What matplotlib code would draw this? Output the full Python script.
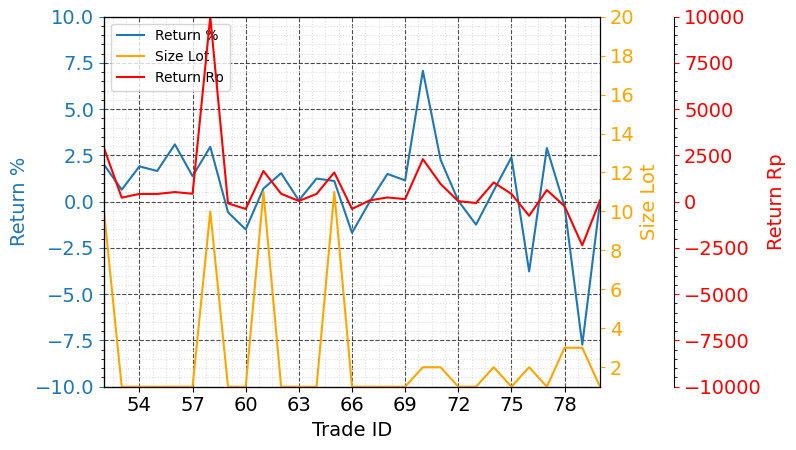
import matplotlib
matplotlib.use("Agg")
import matplotlib.pyplot as plt
from matplotlib.ticker import AutoMinorLocator, MultipleLocator

trade_id = list(range(52, 81))
return_pct = [2.0, 0.65, 1.91, 1.66, 3.1, 1.38, 2.97, -0.57, -1.5, 0.71, 1.54, 0.07,
              1.25, 1.12, -1.68, 0.0, 1.5, 1.15, 7.08, 2.27, 0.05, -1.24, 0.6, 2.4,
              -3.77, 2.9, -0.25, -7.73, 0.02]
size_lot = [10, 1, 1, 1, 1, 1, 10, 1, 1, 11, 1, 1, 1, 11, 1, 1, 1, 1, 2, 2, 1, 1,
            2, 1, 2, 1, 3, 3, 1]
return_rp = [2900, 220, 420, 420, 520, 430, 10000, -90, -390, 1660, 430, 40, 420,
             1580, -390, 70, 230, 140, 2300, 960, 30, -70, 1040, 420, -760, 630,
             -240, -2360, 70]

FS = 14
fig = plt.figure(figsize=(7.96, 4.5), dpi=100)
ax = fig.add_axes([104/796, 1-386.7/450, (600-104)/796, (386.7-16.7)/450])

l1, = ax.plot(trade_id, return_pct, color='tab:blue', lw=1.5, label='Return %')
ax.set_xlim(52, 80)
ax.set_ylim(-10, 10)
ax.xaxis.set_major_locator(MultipleLocator(3))
ax.minorticks_on()
ax.tick_params(axis='x', which='minor', length=0)
ax.tick_params(axis='y', colors='tab:blue', labelsize=FS)
ax.tick_params(axis='x', labelsize=FS)
ax.set_xlabel('Trade ID', fontsize=FS)
ax.set_ylabel('Return %', color='tab:blue', fontsize=FS)
ax.grid(which='major', linestyle='--', color='black', alpha=0.7, lw=0.8)
ax.grid(which='minor', linestyle=':', color='lightgray', alpha=0.7, lw=0.8)

ax2 = ax.twinx()
l2, = ax2.plot(trade_id, size_lot, color='orange', lw=1.5, label='Size Lot')
ax2.set_ylim(1, 20)
ax2.yaxis.set_major_locator(MultipleLocator(2))
ax2.tick_params(axis='y', colors='orange', labelsize=FS)
ax2.set_ylabel('Size Lot', color='orange', fontsize=FS)

ax3 = ax.twinx()
ax3.spines['right'].set_position(('axes', 1.15))
l3, = ax3.plot(trade_id, return_rp, color='red', lw=1.5, label='Return Rp')
ax3.set_ylim(-10000, 10000)
ax3.yaxis.set_major_locator(MultipleLocator(2500))
ax3.yaxis.set_minor_locator(AutoMinorLocator(5))
ax3.tick_params(axis='y', colors='red', labelsize=FS)
ax3.set_ylabel('Return Rp', color='red', fontsize=FS)

ax.legend(handles=[l1, l2, l3], loc='upper left', fontsize=10)

fig.savefig('out.png', dpi=100)
